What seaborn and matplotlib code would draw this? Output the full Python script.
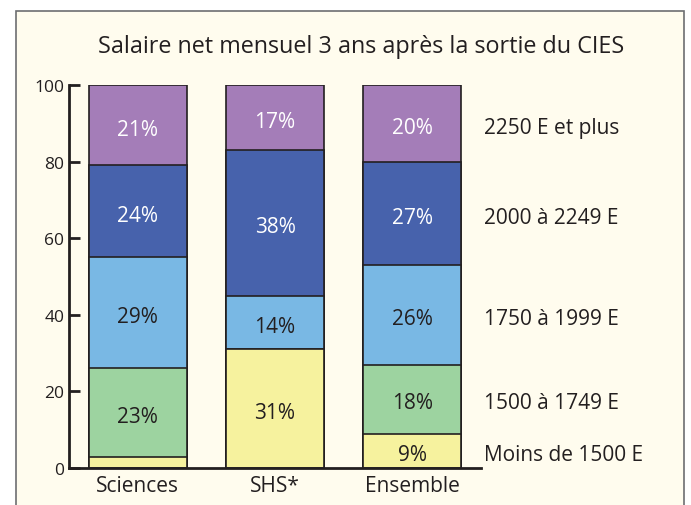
import numpy as np
import pandas as pd
import matplotlib
matplotlib.use("Agg")
import matplotlib.pyplot as plt
import seaborn as sns
from matplotlib.patches import Rectangle

# data
groupes = ['Sciences', 'SHS*', 'Ensemble']
tranches = ['Moins de 1500 E', '1500 à 1749 E', '1750 à 1999 E', '2000 à 2249 E', '2250 E et plus']
moins_1500 = [3, 31, 9]
de_1500_1749 = [23, 0, 18]
de_1750_1999 = [29, 14, 26]
de_2000_2249 = [24, 38, 27]
plus_2250 = [21, 17, 20]

couleurs = ['#F6F29E', '#9DD3A0', '#79B8E4', '#4762AC', '#A47DB8']
texte_couleur = ['#231F20', '#231F20', '#231F20', 'white', 'white']

sns.set_style('white')
plt.rcParams['font.family'] = ['Open Sans', 'DejaVu Sans']

df = pd.DataFrame({'groupe': groupes,
                   tranches[0]: moins_1500,
                   tranches[1]: de_1500_1749,
                   tranches[2]: de_1750_1999,
                   tranches[3]: de_2000_2249,
                   tranches[4]: plus_2250})

fig = plt.figure(figsize=(6.91, 5.06), dpi=100)
fig.patch.set_facecolor('white')
# cream frame
fig.patches.append(Rectangle((16 / 691, -0.1), (684 - 16) / 691, 1.1 - 12 / 506,
                             transform=fig.transFigure, facecolor='#FFFCEE',
                             edgecolor='#6D6E71', linewidth=1.2, zorder=-5))

ax = fig.add_axes([69 / 691, 37 / 506, (481 - 69) / 691, (469 - 86) / 506])
ax.set_facecolor('none')

# stacked bars: draw cumulative totals from top to bottom
cum = df[tranches].cumsum(axis=1)
for i in range(len(tranches) - 1, -1, -1):
    sns.barplot(x=df['groupe'], y=cum[tranches[i]], color=couleurs[i], width=0.715,
                edgecolor='#231F20', linewidth=1.2, saturation=1, ax=ax)

# percentage labels
for j, g in enumerate(groupes):
    bas = 0
    for i, t in enumerate(tranches):
        v = df.loc[j, t]
        if v >= 5:
            ax.text(j, bas + v / 2 - 1, f'{v}%', ha='center', va='center',
                    fontsize=15, color=texte_couleur[i])
        bas += v

# category names on the right, next to Ensemble
ens = df.loc[2, tranches].values
bas = 0
for i, t in enumerate(tranches):
    y = bas + ens[i] / 2 - 1
    ax.text(2.52, y, t, ha='left', va='center', fontsize=15, color='#231F20',
            clip_on=False)
    bas += ens[i]

ax.set_xlim(-0.5, 2.5)
ax.set_ylim(0, 100)
ax.set_yticks([0, 20, 40, 60, 80, 100])
ax.set_xlabel('')
ax.set_ylabel('')
ax.set_xticks([0.5, 1.5, 2.5], minor=True)
ax.tick_params(axis='x', which='major', length=0, labelsize=15, pad=5, colors='#231F20')
ax.tick_params(axis='x', which='minor', direction='in', length=8, width=2, color='#231F20')
ax.tick_params(axis='y', direction='in', length=8, width=2, labelsize=12.5,
               color='#231F20', labelcolor='#231F20', left=True)
for s in ['top', 'right']:
    ax.spines[s].set_visible(False)
for s in ['left', 'bottom']:
    ax.spines[s].set_linewidth(2)
    ax.spines[s].set_color('#231F20')

fig.text(361 / 691, 1 - 47 / 506, 'Salaire net mensuel 3 ans après la sortie du CIES',
         ha='center', va='center', fontsize=16.8, color='#231F20')

fig.savefig('out.png', dpi=100)
